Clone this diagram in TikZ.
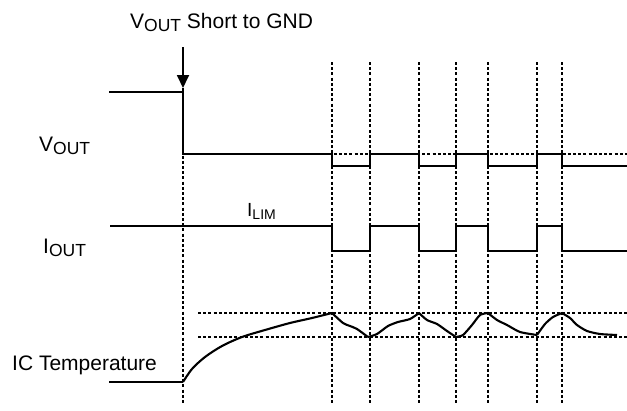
\documentclass[tikz,border=0pt]{standalone}
\usepackage{fontspec}
\setmainfont{Liberation Sans}
\usetikzlibrary{arrows.meta}
\newcommand{\lowsub}[1]{\raisebox{-3pt}{\fontsize{17.5}{18}\selectfont #1}}
\begin{document}
\begin{tikzpicture}[
  x=1pt, y=-1pt,
  font=\fontsize{21}{24}\selectfont,
  lab/.style={inner sep=0pt, anchor=base west},
  wave/.style={line width=2.1pt, line join=miter},
  grid/.style={line width=1.8pt, dash pattern=on 3pt off 2.2pt},
  eventarrow/.style={line width=1.8pt, -{Triangle[length=13pt,width=12pt]}}]
\useasboundingbox (0,0) rectangle (627,410);

% ---- labels ----
\node[lab] (title) at (130,28) {V\lowsub{OUT} Short to GND};
\node[lab] (vlab) at (39,151) {V\lowsub{OUT}};
\node[lab] (ilab) at (43,253) {I\lowsub{OUT}};
\node[lab] (tlab) at (12,370) {IC Temperature};
\node[lab] (ilim) at (247,216) {\fontsize{19}{20}\selectfont I\raisebox{-3pt}{\fontsize{14}{15}\selectfont LIM}};

% ---- short event ----
\coordinate (evtop) at (183,47);
\coordinate (evtip) at (183,88);
\draw[eventarrow] (evtop) -- (evtip);
\draw[grid] (183,88) -- (183,403);

% ---- limit switching instants ----
\foreach \t in {332,370,419,456,488,537,562}
  \draw[grid] (\t,62) -- (\t,403);

% ---- reference levels ----
\draw[grid] (183,154) -- (627,154);
\draw[grid] (198,313) -- (627,313);
\draw[grid] (198,337) -- (627,337);

% ---- V_OUT ----
\draw[wave] (109,92) -- (183,92) -- (183,154) -- (332,154) -- (332,166) -- (370,166)
  -- (370,154) -- (419,154) -- (419,166) -- (456,166) -- (456,154) -- (488,154)
  -- (488,166) -- (537,166) -- (537,154) -- (562,154) -- (562,166) -- (627,166);

% ---- I_OUT ----
\draw[wave] (110,226) -- (332,226) -- (332,251) -- (370,251) -- (370,226) -- (419,226)
  -- (419,251) -- (456,251) -- (456,226) -- (488,226) -- (488,251) -- (537,251)
  -- (537,226) -- (562,226) -- (562,251) -- (627,251);

% ---- IC temperature ----
\draw[wave] (109,382) -- (183,382);
\draw[wave, line join=round] plot[smooth, tension=0.5] coordinates {(183,382) (192,369) (205,357) (222,346)
  (242,337) (265,330) (290,323) (312,318) (332,313)};
\draw[wave, line join=round] plot[smooth, tension=0.4] coordinates {(332,313) (343,323) (350,326) (357,329) (368,337)};
\draw[wave, line join=round] plot[smooth, tension=0.4] coordinates {(368,337) (377,334) (388,326) (398,322) (410,319) (419,313)};
\draw[wave, line join=round] plot[smooth, tension=0.4] coordinates {(419,313) (427,320) (437,324) (447,331) (456,337)};
\draw[wave, line join=round] plot[smooth, tension=0.4] coordinates {(456,337) (463,335) (472,325) (480,315) (488,313)};
\draw[wave, line join=round] plot[smooth, tension=0.4] coordinates {(488,313) (497,320) (507,325) (520,332) (537,335)};
\draw[wave, line join=round] plot[smooth, tension=0.4] coordinates {(537,335) (545,324) (553,317) (562,313)};
\draw[wave, line join=round] plot[smooth, tension=0.4] coordinates {(562,313) (570,318) (577,325) (587,331) (600,334) (617,335)};
\end{tikzpicture}
\end{document}
